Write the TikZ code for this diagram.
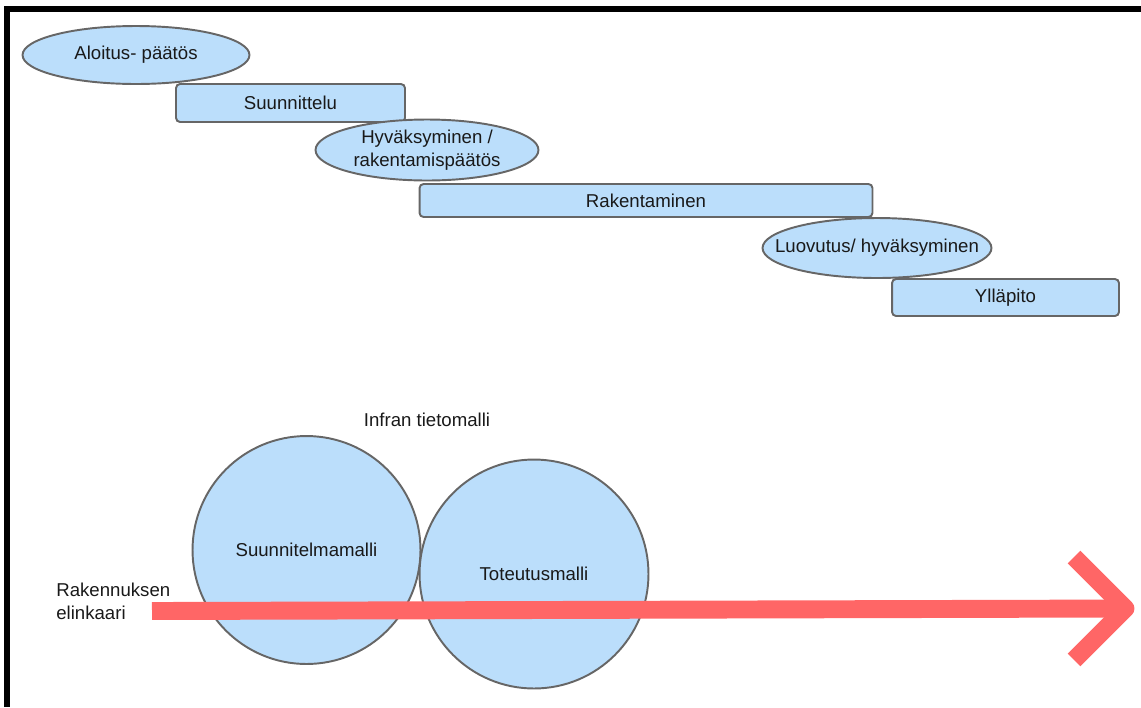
\documentclass[tikz,border=0pt]{standalone}
\usepackage{fontspec}
\setmainfont{Liberation Sans}
\usetikzlibrary{shapes.geometric}
\definecolor{vaihesin}{RGB}{187,222,251}
\definecolor{reuna}{RGB}{102,102,102}
\definecolor{elinpuna}{RGB}{255,102,102}

\begin{document}
\begin{tikzpicture}[x=0.02cm, y=-0.02cm,
	every node/.style={font=\fontsize{10.6}{13}\selectfont, text=black!90},
	vaihe/.style={draw=reuna, line width=1.1pt, fill=vaihesin, rounded corners=2.3pt},
	paatos/.style={draw=reuna, line width=1.1pt, fill=vaihesin, ellipse, inner xsep=-20pt, inner ysep=0pt, align=center},
	malli/.style={draw=reuna, line width=1.1pt, fill=vaihesin, circle, inner sep=0pt},
	elinkaari/.style={draw=elinpuna, line width=10.2pt}]
			%%%%% START %%%%%
			\useasboundingbox (0, 0) rectangle (1141, 707);
			
			\fill[black] (4, 6) rectangle (1141, 12);
			\fill[black] (4, 6) rectangle (10, 707);
			
			% vaiheet
			\node[paatos, minimum width=4.54cm, minimum height=1.16cm] (aloitus) at (136, 55) {Aloitus- päätös};
			\node[vaihe, minimum width=4.58cm, minimum height=0.76cm] (suunnittelu) at (290.5, 103) {Suunnittelu};
			\node[paatos, minimum width=4.46cm, minimum height=1.22cm] (hyvaksyminen) at (427, 150) {Hyväksyminen /\\rakentamispäätös};
			\node[vaihe, minimum width=9.06cm, minimum height=0.66cm] (rakentaminen) at (646, 200.5) {Rakentaminen};
			\node[paatos, minimum width=4.58cm, minimum height=1.2cm] (luovutus) at (877, 248) {Luovutus/ hyväksyminen};
			\node[vaihe, minimum width=4.54cm, minimum height=0.74cm] (yllapito) at (1005.5, 297.5) {Ylläpito};
			
			% tietomalli
			\node (infra) at (427, 420) {Infran tietomalli};
			\node[malli, minimum size=4.56cm] (suunnitelmamalli) at (306.5, 550) {Suunnitelmamalli};
			\node[malli, minimum size=4.58cm] (toteutusmalli) at (534, 574) {Toteutusmalli};
			
			% elinkaari
			\node[anchor=west, align=left, inner sep=0pt] (elinkaariteksti) at (56, 601) {Rakennuksen\\elinkaari};
			\coordinate (alku) at (152, 611);
			\coordinate (karki) at (1125.5, 608.5);
			\coordinate (ylasiipi) at (1074, 557);
			\coordinate (alasiipi) at (1074, 660);
			\draw[elinkaari] (alku) -- (karki);
			\draw[elinkaari, line join=round] (ylasiipi) -- (karki) -- (alasiipi);
			
			%%%%% END %%%%%
\end{tikzpicture}
\end{document}
